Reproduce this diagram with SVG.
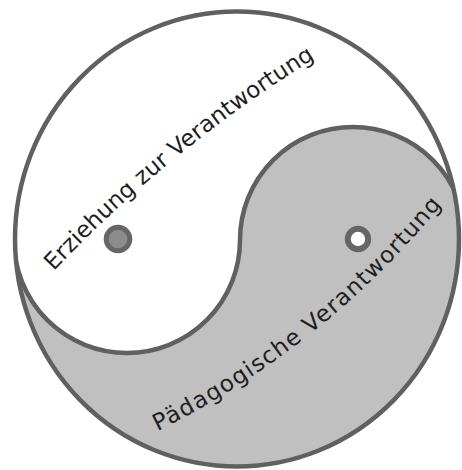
<svg xmlns="http://www.w3.org/2000/svg" width="462" height="470" viewBox="0 0 462 470">
  <style>
    .outline { fill: none; stroke: #606060; stroke-width: 4.5; }
    .lbl { font-family: "DejaVu Sans", "Liberation Sans", sans-serif; font-size: 23px; fill: #1e1e1e; }
  </style>
  <defs>
    <clipPath id="disc">
      <ellipse cx="237" cy="239" rx="222" ry="227.5"/>
    </clipPath>
    <path id="p1" d="M 53.7 271.2 A 1301.5 1301.5 0 0 1 315.5 58.2"/>
    <path id="p2" d="M 157.6 431.2 A 872.5 872.5 0 0 0 442.3 204.1"/>
  </defs>
  <rect width="462" height="470" fill="#ffffff"/>

  <g id="yin-yang">
    <g clip-path="url(#disc)">
      <path id="gray-half" fill="#c0c0c0" d="M 0 240 L 14 240 A 113 113 0 0 0 127 353 A 113 113 0 0 0 240 240 A 113 113 0 0 1 353 127 A 113 113 0 0 1 466 240 L 470 240 L 470 470 L 0 470 Z"/>
      <path class="outline" d="M 14 240 A 113 113 0 0 0 127 353 A 113 113 0 0 0 240 240 A 113 113 0 0 1 353 127 A 113 113 0 0 1 466 240"/>
    </g>
    <ellipse class="outline" cx="237" cy="239" rx="222" ry="227.5"/>
  </g>

  <g id="dot-dark">
    <circle cx="118" cy="239" r="11.8" fill="#8c8c8c" stroke="#666666" stroke-width="5"/>
  </g>
  <g id="dot-light">
    <circle cx="358" cy="239" r="10.2" fill="#ffffff" stroke="#666666" stroke-width="6"/>
  </g>

  <g id="label-erziehung">
    <text class="lbl"><textPath href="#p1" textLength="338" lengthAdjust="spacing">Erziehung zur Verantwortung</textPath></text>
  </g>
  <g id="label-paedagogische">
    <text class="lbl"><textPath href="#p2" textLength="366" lengthAdjust="spacing">Pädagogische Verantwortung</textPath></text>
  </g>
</svg>
